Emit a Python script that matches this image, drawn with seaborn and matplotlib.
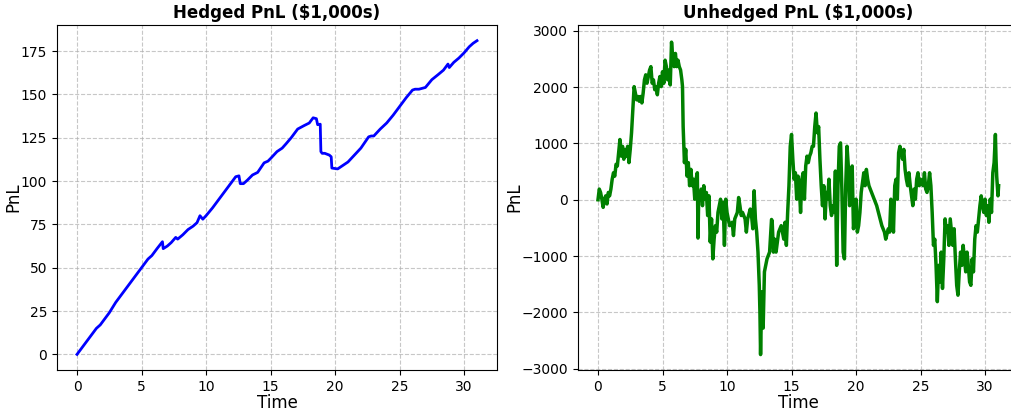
import matplotlib
matplotlib.use("Agg")
import matplotlib.pyplot as plt
import seaborn as sns

# hedged PnL
hedged_t = [0, 0.5, 1.0, 1.5, 1.8, 2.5, 3.0, 3.5, 4.0, 4.5, 5.0, 5.5, 5.8, 6.2,
            6.62, 6.68, 7.0, 7.3, 7.65, 7.8, 8.2, 8.6, 9.0, 9.3, 9.53, 9.75,
            10.0, 10.5, 11.0, 11.5, 12.0, 12.3, 12.55, 12.65, 12.9, 13.2, 13.6,
            14.0, 14.5, 14.8, 15.0, 15.5, 15.9, 16.2, 16.6, 17.1, 17.6, 18.0,
            18.3, 18.55, 18.65, 18.85, 18.9, 19.0, 19.2, 19.55, 19.7, 19.75,
            20.2, 20.6, 21.0, 21.5, 22.0, 22.6, 22.8, 23.0, 23.5, 24.0, 24.5,
            25.0, 25.5, 26.0, 26.2, 26.5, 27.0, 27.5, 28.0, 28.4, 28.75, 28.85,
            29.2, 29.6, 30.0, 30.4, 30.7, 31.0]
hedged_pnl = [0, 5, 10, 15, 17, 24, 30, 35, 40, 45, 50, 55, 57, 61,
              65, 61, 62.5, 64.5, 67.5, 66.5, 69, 72, 74, 76, 80, 78,
              80, 84.5, 89.5, 94.5, 99.5, 102.5, 103, 98.5, 98.5, 100.5, 103.5,
              105, 110.5, 111.5, 113, 117, 119, 121.5, 125, 130, 132, 133.5,
              136.5, 136, 132.5, 132.8, 117, 116, 116, 115, 114, 107.5,
              107, 109, 111, 115, 119, 125.5, 126, 126, 130, 133.5, 138,
              143, 148, 152.5, 153, 153, 154, 158.5, 161.5, 164, 167.5, 165.5,
              168.5, 171, 174, 177.5, 179.5, 181]

# unhedged PnL
unhedged_t = [0, 0.1, 0.2, 0.3, 0.4, 0.5, 0.6, 0.7, 0.8, 0.9, 1.0, 1.1, 1.2, 1.3,
              1.4, 1.5, 1.6, 1.7, 1.8, 1.9, 2.0, 2.1, 2.2, 2.3, 2.4, 2.5, 2.6,
              2.7, 2.8, 2.9, 3.0, 3.1, 3.2, 3.3, 3.4, 3.5, 3.6, 3.7, 3.8, 3.9,
              4.0, 4.1, 4.2, 4.3, 4.4, 4.5, 4.6, 4.7, 4.8, 4.9, 5.0, 5.1, 5.2,
              5.3, 5.4, 5.5, 5.6, 5.7, 5.8, 5.9, 6.0, 6.1, 6.2, 6.3, 6.4, 6.5,
              6.55, 6.6, 6.7, 6.8, 6.9, 7.0, 7.1, 7.2, 7.3, 7.4, 7.5, 7.6, 7.7,
              7.75, 7.8, 7.9, 8.0, 8.1, 8.2, 8.3, 8.4, 8.5, 8.6, 8.7, 8.8, 8.9,
              9.0, 9.1, 9.2, 9.3, 9.4, 9.5, 9.6, 9.7, 9.8, 9.9, 10.0, 10.1, 10.2,
              10.4, 10.5, 10.6, 10.8, 10.9, 11.0, 11.1, 11.2, 11.4, 11.5, 11.6,
              11.8, 11.9, 12.0, 12.1, 12.2, 12.3, 12.4, 12.5, 12.55, 12.6, 12.7,
              12.8, 12.9, 13.0, 13.1, 13.3, 13.45, 13.5, 13.6, 13.7, 13.8, 14.0,
              14.2, 14.4, 14.5, 14.6, 14.7, 14.8, 14.9, 15.0, 15.1, 15.2, 15.3,
              15.4, 15.5, 15.6, 15.7, 15.8, 15.9, 16.0, 16.1, 16.2, 16.3, 16.4,
              16.5, 16.6, 16.7, 16.8, 16.9, 17.0, 17.1, 17.2, 17.3, 17.4, 17.5,
              17.6, 17.7, 17.8, 17.9, 18.0, 18.1, 18.2, 18.3, 18.4, 18.5, 18.6,
              18.7, 18.8, 18.9, 19.0, 19.1, 19.2, 19.3, 19.4, 19.5, 19.6, 19.7,
              19.8, 19.9, 20.0, 20.1, 20.2, 20.3, 20.4, 20.6, 20.7, 20.8, 20.9,
              21.0, 21.2, 21.4, 21.6, 21.8, 22.0, 22.2, 22.3, 22.5, 22.6, 22.7,
              22.8, 22.9, 23.0, 23.1, 23.2, 23.3, 23.4, 23.5, 23.6, 23.7, 23.8,
              23.9, 24.0, 24.1, 24.2, 24.4, 24.5, 24.6, 24.7, 24.8, 24.9, 25.0,
              25.2, 25.3, 25.4, 25.5, 25.6, 25.7, 25.8, 25.9, 26.0, 26.1, 26.2,
              26.3, 26.4, 26.5, 26.6, 26.7, 26.8, 26.9, 27.0, 27.1, 27.2, 27.3,
              27.4, 27.5, 27.6, 27.7, 27.8, 27.9, 28.0, 28.1, 28.2, 28.3, 28.4,
              28.5, 28.6, 28.7, 28.8, 28.9, 29.0, 29.1, 29.2, 29.3, 29.4, 29.5,
              29.6, 29.7, 29.8, 29.9, 30.0, 30.1, 30.2, 30.3, 30.4, 30.5, 30.6,
              30.7, 30.8, 30.85, 30.9, 31.0, 31.05]
unhedged_pnl = [0, 190, 130, 10, -135, 10, 70, -75, 130, 70, 190, 365, 480, 420,
                630, 600, 835, 1070, 775, 950, 720, 895, 775, 950, 660, 895, 1190,
                1600, 2010, 1895, 1775, 1835, 1750, 1835, 1720, 1895, 2130, 2220, 2070, 2190,
                2305, 2365, 2070, 2130, 1955, 2010, 1865, 2070, 2190, 2010, 2275, 2070, 2480,
                2365, 2130, 2305, 2040, 2800, 2510, 2365, 2600, 2365, 2480, 2365, 2305, 2130,
                2010, 1300, 660, 895, 420, 660, 250, 540, 250, 365, 10, 365, 480,
                -680, -45, 70, 190, -105, 250, 10, 130, -280, 70, -750, -340, -1050,
                -700, -460, -575, -225, -105, 10, -340, -45, -810, 10, -225, -340, -460,
                -400, -635, -340, -225, 40, -105, -280, -225, -340, -575, -340,
                -165, -280, -515, 160, -340, -575, -930, -1520, -1990, -2750, -1635,
                -2280, -1280, -1165, -1050, -930, -350, -380, -930, -700, -930, -575,
                -460, -700, -400, -810, -225, 250, 950, 1160, 720, 365, 480,
                10, 420, 250, -225, 365, 480, 10, 600, 775, 660, 775,
                835, 950, 950, 1300, 1540, 1190, 1300, 720, 250, -105, 250,
                -340, 130, 10, 365, -105, -280, -105, -225, 510, -1165, 250,
                950, 1010, 190, -930, -1050, 250, 950, 600, -105, 365, 600,
                -515, -280, 10, -575, -460, -225, 130, 480, 250, 540, 365,
                250, 130, 10, -105, -280, -460, -575, -700, -515, -575, 10,
                -225, -575, 250, 365, 10, 835, 950, 835, 720, 895, 540,
                365, 250, 480, 250, -105, 190, 10, 365, 480, 250, 365,
                250, 480, 190, 130, 250, 480, 250, -225, -810, -700, -1165,
                -1810, -1165, -1460, -930, -1575, -1050, -340, -575, -460, -810, -340,
                -575, -810, -515, -1050, -1520, -1695, -1280, -930, -1165, -810, -1050,
                -1280, -930, -1165, -1460, -1520, -1050, -1280, -700, -460, -575, -340,
                -105, 70, -105, -225, 10, -280, -105, -400, 10, -225, 480,
                660, 1160, 720, 420, 70, 250]

fig = plt.figure(figsize=(10.11, 4.13), dpi=100)
ax1 = fig.add_axes([0.0564, 0.104, 0.4352, 0.8355])
ax2 = fig.add_axes([0.5717, 0.104, 0.4352, 0.8355])

sns.lineplot(x=hedged_t, y=hedged_pnl, ax=ax1, color="blue", linewidth=2)
ax1.set_title("Hedged PnL (\\$1,000s)", fontsize=12, fontweight="bold", pad=5)
ax1.set_xlabel("Time", fontsize=12, labelpad=0)
ax1.set_ylabel("PnL", fontsize=12, labelpad=-1)
ax1.grid(True, linestyle="--", alpha=0.7)

sns.lineplot(x=unhedged_t, y=unhedged_pnl, ax=ax2, color="green", linewidth=2.5)
ax2.set_title("Unhedged PnL (\\$1,000s)", fontsize=12, fontweight="bold", pad=5)
ax2.set_xlabel("Time", fontsize=12, labelpad=0)
ax2.set_ylabel("PnL", fontsize=12, labelpad=-1)
ax2.set_ylim(-3025, 3105)
ax2.set_xlim(-1.55, 32.55)
ax2.grid(True, linestyle="--", alpha=0.7)

plt.savefig("out.png", dpi=100)
